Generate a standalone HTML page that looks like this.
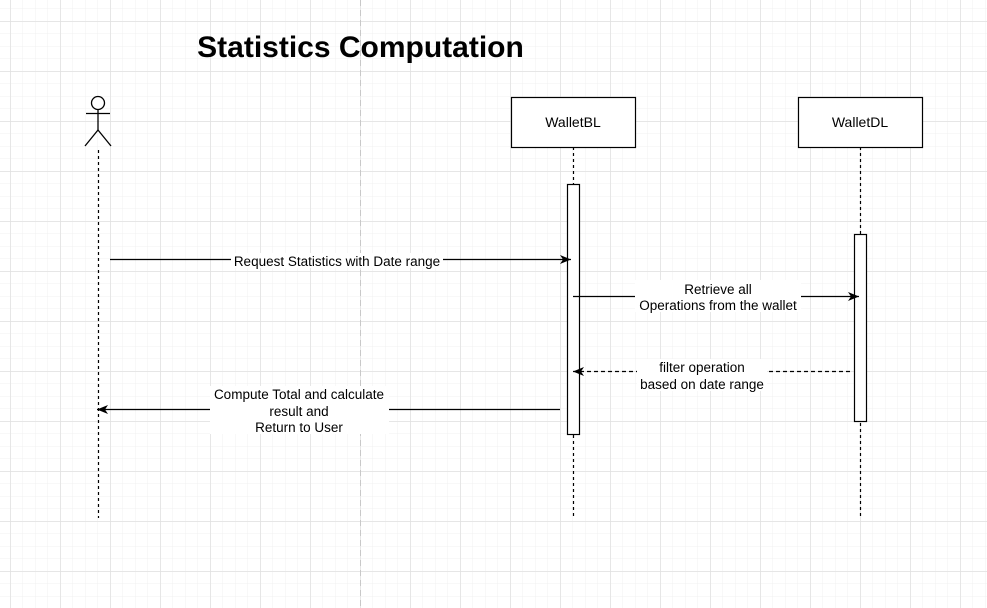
<!DOCTYPE html>
<html><head><style>body{margin:0;background:#fff}svg{display:block}</style></head><body>
<svg width="987" height="608" xmlns="http://www.w3.org/2000/svg" font-family="Liberation Sans, Arial, sans-serif">
<defs>
<pattern id="minor" width="12.5" height="12.5" patternUnits="userSpaceOnUse" x="10" y="8.5">
<path d="M0 0H12.5M0 0V12.5" stroke="#f0f0f0" stroke-width="1" fill="none"/></pattern>
<pattern id="major" width="50" height="50" patternUnits="userSpaceOnUse" x="10.5" y="21.5">
<path d="M0 0H50M0 0V50" stroke="#dcdcdc" stroke-width="1" fill="none"/></pattern>
<marker id="ah" markerWidth="12" markerHeight="12" refX="11" refY="6" orient="auto" markerUnits="userSpaceOnUse"><path d="M0 1.5 L11 6 L0 10.5 L3 6Z" fill="#000"/></marker>
</defs>
<rect width="987" height="608" fill="#fff"/>
<rect width="987" height="608" fill="url(#minor)"/>
<rect width="987" height="608" fill="url(#major)"/>
<line x1="360.5" y1="0" x2="360.5" y2="608" stroke="#c8c8c8" stroke-dasharray="6 4"/>
<text x="360.5" y="57" font-size="30" font-weight="bold" text-anchor="middle">Statistics Computation</text>
<g stroke="#000" stroke-width="1.3" fill="none">
<circle cx="98" cy="103" r="6.5" fill="#fff"/>
<line x1="86" y1="113.5" x2="110" y2="113.5"/>
<line x1="98" y1="109.5" x2="98" y2="130"/>
<line x1="98" y1="130" x2="85" y2="146"/>
<line x1="98" y1="130" x2="111" y2="146"/>
</g>
<g stroke="#000" stroke-dasharray="3 3" stroke-width="1.2">
<line x1="98.5" y1="150" x2="98.5" y2="518"/>
<line x1="573.5" y1="147" x2="573.5" y2="518"/>
<line x1="860.5" y1="147" x2="860.5" y2="518"/>
</g>
<rect x="511.5" y="97.5" width="124" height="50" fill="#fff" stroke="#000" stroke-width="1.2"/>
<text x="573" y="127" font-size="14" text-anchor="middle">WalletBL</text>
<rect x="798.5" y="97.5" width="124" height="50" fill="#fff" stroke="#000" stroke-width="1.2"/>
<text x="860" y="127" font-size="14" text-anchor="middle">WalletDL</text>
<rect x="567.5" y="184.5" width="12" height="250" fill="#fff" stroke="#000" stroke-width="1.2"/>
<rect x="854.5" y="234.5" width="12" height="187" fill="#fff" stroke="#000" stroke-width="1.2"/>
<g stroke="#000" stroke-width="1.2" fill="none">
<line x1="110" y1="259.5" x2="571" y2="259.5" marker-end="url(#ah)"/>
<line x1="573" y1="296.5" x2="859" y2="296.5" marker-end="url(#ah)"/>
<line x1="850" y1="371.5" x2="573" y2="371.5" stroke-dasharray="4 3" marker-end="url(#ah)"/>
<line x1="560" y1="409.5" x2="97" y2="409.5" marker-end="url(#ah)"/>
</g>
<g font-size="13.5" text-anchor="middle" fill="#000">
<rect x="231" y="253" width="212" height="15" fill="#fff"/>
<text x="337" y="266">Request Statistics with Date range</text>
<rect x="635" y="280" width="166" height="32" fill="#fff"/>
<text x="718" y="294">Retrieve all</text>
<text x="718" y="310">Operations from the wallet</text>
<rect x="637" y="359" width="130" height="32" fill="#fff"/>
<text x="702" y="372">filter operation</text>
<text x="702" y="389">based on date range</text>
<rect x="210" y="386" width="179" height="48" fill="#fff"/>
<text x="299" y="399">Compute Total and calculate</text>
<text x="299" y="416">result and</text>
<text x="299" y="432">Return to User</text>
</g>
</svg>
</body></html>
